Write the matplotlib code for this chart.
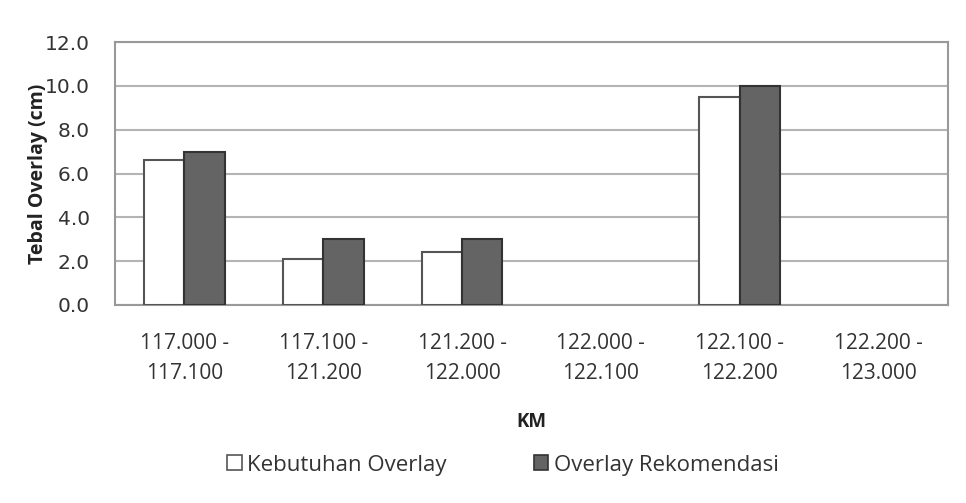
import numpy as np
import matplotlib.pyplot as plt

plt.rcParams['font.family'] = ['Open Sans', 'DejaVu Sans']

categories = ['117.000 -\n117.100', '117.100 -\n121.200', '121.200 -\n122.000',
              '122.000 -\n122.100', '122.100 -\n122.200', '122.200 -\n123.000']
kebutuhan = [6.6, 2.1, 2.4, 0.0, 9.5, 0.0]
rekomendasi = [7.0, 3.0, 3.0, 0.0, 10.0, 0.0]
yticks = [0, 2, 4, 6, 8, 10, 12]

fig = plt.figure(figsize=(9.66, 5.03), dpi=100)
ax = fig.add_axes([115/966, 1 - 305/503, 833/966, 263/503])

x = np.arange(len(categories))
w = 0.29
for xi, v in zip(x, kebutuhan):
    if v > 0:
        ax.bar(xi - w/2, v, w, color='white', edgecolor='#555555', linewidth=1.5, zorder=3)
for xi, v in zip(x, rekomendasi):
    if v > 0:
        ax.bar(xi + w/2, v, w, color='#646464', edgecolor='#333333', linewidth=1.5, zorder=3)

ax.set_xlim(-0.5, len(categories) - 0.5)
ax.set_ylim(0, 12)
ax.set_yticks(yticks)
ax.set_yticklabels([f'{t:.1f}' for t in yticks], fontsize=14.5, color='#333333',
                   family='DejaVu Sans')
ax.set_xticks(x)
ax.set_xticklabels(categories, fontsize=15, color='#333333', linespacing=1.55)
ax.tick_params(axis='y', length=0, pad=18)
ax.tick_params(axis='x', length=0, pad=20)
ax.yaxis.grid(True, color='#b4b4b4', linewidth=1.5, zorder=0)
ax.set_axisbelow(True)
for s in ax.spines.values():
    s.set_color('#999999')
    s.set_linewidth(1.5)

ax.set_ylabel('Tebal Overlay (cm)', fontsize=14, fontweight='bold', color='#222222')
ax.yaxis.set_label_coords(-0.081, 0.5)
ax.set_xlabel('KM', fontsize=13.5, fontweight='bold', color='#222222')
ax.xaxis.set_label_coords(0.5, -(422 - 305) / 263)
ax.xaxis.label.set_va('center')

h1 = plt.Rectangle((0, 0), 1, 1, facecolor='white', edgecolor='#555555', linewidth=1.2)
h2 = plt.Rectangle((0, 0), 1, 1, facecolor='#646464', edgecolor='#333333', linewidth=1.2)
fig.legend([h1, h2], ['Kebutuhan Overlay', 'Overlay Rekomendasi'],
           loc='center', bbox_to_anchor=(503/966, 1 - 465/503), ncol=2, frameon=False,
           fontsize=16, handlelength=0.65, handleheight=0.65, handletextpad=0.25,
           columnspacing=3.9, labelcolor='#333333')

fig.savefig('out.png', dpi=100, facecolor='white')
